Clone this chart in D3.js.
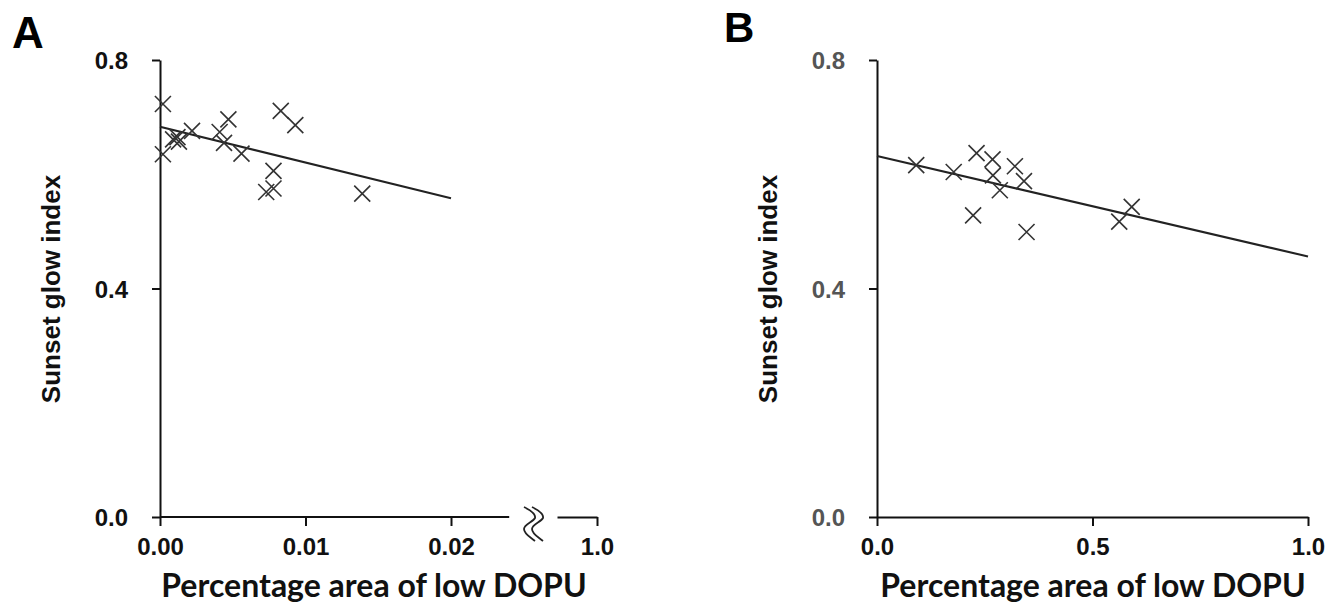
<!DOCTYPE html>
<html>
<head>
<meta charset="utf-8">
<script src="https://cdn.jsdelivr.net/npm/d3@7"></script>
<style>
  body { margin: 0; background: #fff; }
  svg { display: block; }
  .domain, .tick line { stroke: #111; stroke-width: 2; }
</style>
</head>
<body>
<svg id="chart" width="1336" height="605"></svg>
<script>
// Panel A data
const aX = [0.0002, 0.0002, 0.0009, 0.0012, 0.0013, 0.0022, 0.0041, 0.0044, 0.0047, 0.0056, 0.0073, 0.0078, 0.0078, 0.0083, 0.0093, 0.0139];
const aY = [0.723, 0.635, 0.661, 0.665, 0.657, 0.676, 0.674, 0.655, 0.696, 0.636, 0.569, 0.575, 0.606, 0.711, 0.686, 0.566];
const aFit = [[0, 0.683], [0.02, 0.558]];
const aXTicks = [0, 0.01, 0.02];
const aXTickLabels = ["0.00", "0.01", "0.02"];
const aBreakTick = [1.0];

// Panel B data
const bX = [0.091, 0.178, 0.231, 0.223, 0.268, 0.269, 0.285, 0.320, 0.341, 0.347, 0.562, 0.591];
const bY = [0.616, 0.604, 0.637, 0.528, 0.626, 0.598, 0.572, 0.614, 0.588, 0.499, 0.517, 0.543];
const bFit = [[0, 0.632], [1.0, 0.456]];
const bXTicks = [0, 0.5, 1.0];

const yTicks = [0, 0.4, 0.8];

const ARIAL = "Arial, 'Liberation Sans', Helvetica, sans-serif";

const svg = d3.select("#chart");

const y = d3.scaleLinear().domain([0, 0.8]).range([517, 60]);

function styleTicks(ax, color) {
  ax.attr("font-family", null).attr("font-size", null);
  ax.selectAll(".tick text")
    .style("font-family", ARIAL)
    .style("font-weight", "bold")
    .style("font-size", "24px")
    .attr("fill", color);
}

// crosses as markers
function crosses(g, xs, ys, sx) {
  const s = 8;
  g.selectAll(".pt").data(xs.map((d, i) => [d, ys[i]])).enter()
    .append("path")
    .attr("class", "pt")
    .attr("d", d => {
      const cx = sx(d[0]), cy = y(d[1]);
      return `M${cx - s},${cy - s}L${cx + s},${cy + s}M${cx - s},${cy + s}L${cx + s},${cy - s}`;
    })
    .attr("stroke", "#333")
    .attr("stroke-width", 1.6)
    .attr("fill", "none");
}

function fitLine(g, fit, sx) {
  g.append("path")
    .attr("d", d3.line().x(d => sx(d[0])).y(d => y(d[1]))(fit))
    .attr("stroke", "#222")
    .attr("stroke-width", 2)
    .attr("fill", "none");
}

function yAxis(g, x0, color) {
  const ax = g.append("g")
    .attr("transform", `translate(${x0},0)`)
    .call(d3.axisLeft(y).tickValues(yTicks).tickFormat(d3.format(".1f")).tickSize(8).tickSizeOuter(0).tickPadding(24));
  styleTicks(ax, color);
  ax.selectAll(".tick text").attr("dy", "0.36em");
}

function labels(g, yx, xcx) {
  g.append("text")
    .attr("transform", `translate(${yx},289) rotate(-90)`)
    .attr("text-anchor", "middle")
    .style("font-family", ARIAL)
    .style("font-weight", "bold")
    .style("font-size", "26px")
    .attr("fill", "#111")
    .text("Sunset glow index");
  g.append("text")
    .attr("x", xcx)
    .attr("y", 597)
    .attr("text-anchor", "middle")
    .style("font-family", "Lato, sans-serif")
    .style("font-weight", "bold")
    .style("font-size", "32px")
    .attr("fill", "#111")
    .text("Percentage area of low DOPU");
}

function xAxis(g, scale, ticks, fmt) {
  const ax = g.append("g").attr("transform", "translate(0,517)")
    .call(d3.axisBottom(scale).tickValues(ticks).tickFormat(fmt).tickSize(9).tickSizeOuter(0).tickPadding(12));
  styleTicks(ax, "#111");
  return ax;
}

// ---------- Panel A ----------
const gA = svg.append("g");
const xA = d3.scaleLinear().domain([0, 0.02]).range([160, 451]);
const xA2 = d3.scaleLinear().domain([0.97, 1.0]).range([557, 597]);

gA.append("text").attr("x", 12).attr("y", 48)
  .style("font-family", ARIAL)
  .style("font-weight", "bold").style("font-size", "44px").text("A");

yAxis(gA, 160, "#111");

// main x axis part, line runs on until the break
const axA = xAxis(gA, xA, aXTicks, (d, i) => aXTickLabels[i]);
axA.select(".domain").attr("d", `M${xA(0)},0H${xA(0.024)}`);

// part after the break
xAxis(gA, xA2, aBreakTick, d3.format(".1f"));

// break mark
const brk = gA.append("g").attr("fill", "none").attr("stroke", "#222").attr("stroke-width", 1.8);
[0, 8].forEach(dx => {
  const x0 = 524 + dx;
  brk.append("path")
    .attr("d", `M${x0},507 C${x0 + 6},510 ${x0 + 12},514 ${x0 + 11},518 C${x0 + 9},522 ${x0},524 ${x0},529 C${x0},534 ${x0 + 6},537 ${x0 + 11},541`);
});

fitLine(gA, aFit, xA);
crosses(gA, aX, aY, xA);
labels(gA, 60, 374);

// ---------- Panel B ----------
const gB = svg.append("g");
const xB = d3.scaleLinear().domain([0, 1]).range([877, 1308]);

gB.append("text").attr("x", 724).attr("y", 42)
  .style("font-family", ARIAL)
  .style("font-weight", "bold").style("font-size", "42px").text("B");

yAxis(gB, 877, "#555");
xAxis(gB, xB, bXTicks, d3.format(".1f"));

fitLine(gB, bFit, xB);
crosses(gB, bX, bY, xB);
labels(gB, 777, 1093);
</script>
</body>
</html>
